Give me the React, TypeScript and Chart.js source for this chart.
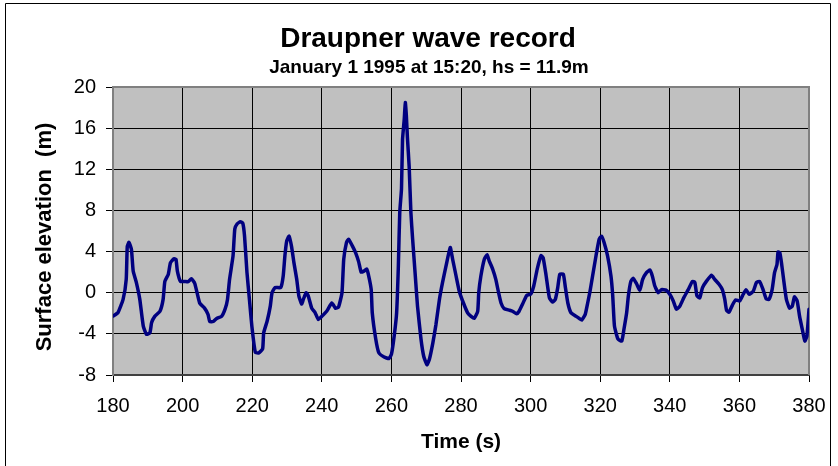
import React, { useEffect, useRef } from "react";
import { Chart, registerables } from "chart.js";

Chart.register(...registerables);

const chartTitle = "Draupner wave record";
const chartSubtitle = "January 1 1995 at 15:20, hs = 11.9m";
const xAxisTitle = "Time (s)";
const yAxisTitle = "Surface elevation  (m)";

const xMin = 180;
const xMax = 380;
const xStep = 20;
const yMin = -8;
const yMax = 20;
const yStep = 4;

const times: number[] = [
  180.0, 181.4, 182.9, 183.8, 184.1, 184.6, 185.3, 185.8, 186.7, 187.7,
  188.7, 189.6, 190.6, 191.1, 192.0, 193.5, 194.4, 194.9, 195.9, 196.5,
  197.5, 198.1, 198.5, 199.4, 200.6, 201.6, 202.5, 203.5, 204.9, 206.3,
  207.3, 207.8, 208.8, 209.8, 211.2, 212.2, 212.9, 213.5, 214.5, 215.0,
  215.7, 216.6, 217.3, 217.8, 218.5, 219.2, 219.9, 220.9, 221.9, 223.0,
  223.3, 224.3, 225.2, 225.7, 226.6, 228.2, 228.9, 229.4, 229.9, 230.6,
  231.3, 232.0, 232.8, 233.4, 234.2, 234.7, 235.5, 236.1, 237.1, 238.1,
  239.0, 240.0, 241.4, 242.9, 243.9, 244.8, 245.8, 246.3, 247.1, 247.7,
  248.7, 249.7, 250.6, 251.3, 252.1, 252.9, 253.5, 254.2, 254.5, 255.5,
  256.4, 257.9, 259.3, 260.0, 260.8, 261.5, 262.0, 262.4, 262.9, 263.2,
  263.7, 264.0, 264.3, 264.6, 265.1, 265.6, 266.1, 266.8, 267.5, 268.5,
  269.3, 270.2, 270.9, 271.9, 272.8, 273.8, 274.7, 275.7, 276.9, 277.6,
  278.6, 279.5, 280.7, 281.9, 282.9, 283.8, 284.8, 285.1, 285.7, 286.7,
  287.5, 288.1, 289.1, 290.0, 290.8, 291.5, 292.4, 293.9, 294.8, 296.0,
  296.7, 297.7, 298.9, 300.0, 300.9, 301.9, 303.0, 303.6, 304.4, 305.4,
  306.3, 307.1, 307.8, 308.4, 309.4, 310.0, 310.7, 311.6, 313.1, 314.0,
  314.7, 315.7, 316.4, 317.0, 317.8, 318.8, 319.7, 320.4, 321.1, 322.1,
  323.1, 323.6, 324.1, 325.1, 326.2, 326.8, 327.6, 328.1, 328.8, 329.5,
  330.4, 331.4, 332.2, 333.3, 334.3, 335.0, 335.7, 336.7, 337.6, 338.9,
  340.0, 341.0, 341.9, 342.9, 344.0, 345.3, 346.5, 347.2, 347.8, 348.6,
  349.4, 350.5, 352.0, 352.9, 354.2, 355.1, 355.8, 356.3, 357.0, 358.0,
  358.9, 360.1, 361.1, 361.9, 362.8, 364.0, 364.9, 365.8, 366.8, 367.7,
  368.5, 369.4, 370.1, 370.8, 371.1, 371.6, 372.1, 372.7, 373.5, 374.4,
  375.2, 375.8, 376.6, 377.3, 378.1, 378.8, 379.4, 380.0,
];

const elevations: number[] = [
  -2.27, -1.95, -0.65, 1.3, 4.5, 4.9, 4.2, 2.1, 1.0, -0.65,
  -3.25, -4.05, -3.9, -2.9, -2.3, -1.8, -0.65, 1.1, 1.8, 2.9,
  3.3, 3.25, 2.1, 1.1, 1.1, 1.07, 1.36, 0.9, -1.0, -1.5,
  -2.1, -2.8, -2.8, -2.5, -2.3, -1.6, -0.65, 1.3, 3.6, 6.2,
  6.7, 6.9, 6.75, 5.5, 1.95, -0.65, -3.25, -5.8, -5.85, -5.45,
  -3.9, -2.75, -1.3, 0.0, 0.5, 0.5, 1.6, 3.6, 5.0, 5.5,
  4.5, 2.9, 1.3, -0.3, -1.1, -0.65, 0.0, -0.3, -1.5, -1.95,
  -2.6, -2.3, -1.8, -1.0, -1.5, -1.4, 0.0, 3.25, 4.9, 5.2,
  4.6, 3.9, 3.0, 2.0, 2.1, 2.3, 1.6, 0.3, -1.95, -4.5,
  -5.85, -6.25, -6.4, -6.0, -4.2, -1.95, 2.6, 7.8, 10.1, 14.9,
  16.9, 18.5, 17.2, 15.1, 12.3, 7.8, 5.2, 1.95, -1.3, -4.5,
  -6.2, -7.0, -6.5, -4.9, -3.1, -0.65, 1.0, 2.6, 4.4, 3.25,
  1.6, 0.15, -1.0, -1.95, -2.3, -2.5, -1.8, 0.0, 1.6, 3.25,
  3.7, 3.1, 2.3, 1.3, 0.0, -1.0, -1.55, -1.7, -1.8, -2.05,
  -1.8, -1.1, -0.25, -0.15, 0.65, 2.3, 3.6, 3.4, 1.8, -0.5,
  -0.9, -0.65, 0.5, 1.8, 1.8, 0.5, -1.0, -1.95, -2.3, -2.5,
  -2.65, -2.1, -1.0, 0.0, 1.6, 3.6, 5.2, 5.5, 4.9, 3.6,
  1.6, -0.3, -3.25, -4.5, -4.7, -3.6, -1.95, -0.3, 1.1, 1.4,
  0.9, 0.25, 1.3, 1.95, 2.2, 1.6, 0.65, 0.0, 0.3, 0.25,
  -0.15, -0.8, -1.6, -1.3, -0.5, 0.3, 1.1, 1.0, -0.3, -0.5,
  0.5, 1.1, 1.7, 1.3, 0.8, 0.3, -0.65, -1.7, -1.9, -1.2,
  -0.7, -0.8, -0.15, 0.3, -0.15, 0.15, 1.0, 1.1, 0.3, -0.6,
  -0.65, 0.3, 1.95, 2.75, 3.95, 3.9, 2.9, 1.3, -0.65, -1.5,
  -1.3, -0.4, -0.8, -2.3, -3.6, -4.7, -4.2, -1.6,
];

const FONT = "'Liberation Sans', Arial, sans-serif";

const decorPlugin = {
  id: "decor",
  beforeDraw(chart: any) {
    const { ctx, chartArea } = chart;
    ctx.save();
    ctx.fillStyle = "#ffffff";
    ctx.fillRect(0, 0, chart.width, chart.height);
    ctx.fillStyle = "#c0c0c0";
    ctx.fillRect(
      chartArea.left,
      chartArea.top,
      chartArea.right - chartArea.left,
      chartArea.bottom - chartArea.top
    );
    ctx.restore();
  },
  beforeDatasetsDraw(chart: any) {
    const { ctx, chartArea } = chart;
    ctx.save();
    ctx.strokeStyle = "#808080";
    ctx.lineWidth = 2;
    ctx.beginPath();
    ctx.moveTo(chartArea.left, chartArea.top);
    ctx.lineTo(chartArea.right, chartArea.top);
    ctx.lineTo(chartArea.right, chartArea.bottom);
    ctx.stroke();
    ctx.restore();
  },
  afterDraw(chart: any) {
    const { ctx } = chart;
    ctx.save();
    // outer frame
    ctx.strokeStyle = "#000000";
    ctx.lineWidth = 1;
    ctx.beginPath();
    ctx.moveTo(5.5, chart.height + 2);
    ctx.lineTo(5.5, 3.5);
    ctx.lineTo(830.5, 3.5);
    ctx.lineTo(830.5, chart.height + 2);
    ctx.stroke();
    // titles
    ctx.fillStyle = "#000000";
    ctx.textAlign = "center";
    ctx.textBaseline = "alphabetic";
    ctx.font = `bold 28px ${FONT}`;
    ctx.fillText(chartTitle, 428, 47);
    ctx.font = `bold 19px ${FONT}`;
    ctx.fillText(chartSubtitle, 429, 73);
    // y axis title
    ctx.translate(45, 237);
    ctx.rotate(-Math.PI / 2);
    ctx.textBaseline = "middle";
    ctx.font = `bold 22px ${FONT}`;
    ctx.fillText(yAxisTitle, 0, 0);
    ctx.restore();
  },
};

export default function App() {
  const canvasRef = useRef<HTMLCanvasElement | null>(null);

  useEffect(() => {
    document.body.style.margin = "0";
    const canvas = canvasRef.current;
    if (!canvas) return;
    const points = times.map((t, i) => ({ x: t, y: elevations[i] }));
    const chart = new Chart(canvas, {
      type: "line",
      data: {
        datasets: [
          {
            data: points,
            borderColor: "#000080",
            borderWidth: 3.5,
            pointRadius: 0,
            tension: 0.15,
            fill: false,
            borderJoinStyle: "round",
            borderCapStyle: "round",
          },
        ],
      },
      options: {
        responsive: false,
        animation: false,
        events: [],
        layout: { padding: { top: 87, right: 29, left: 0, bottom: 0 } },
        plugins: {
          legend: { display: false },
          tooltip: { enabled: false },
          title: { display: false },
        },
        scales: {
          x: {
            type: "linear",
            min: xMin,
            max: xMax,
            afterFit: (scale: any) => {
              scale.height = 91;
            },
            ticks: {
              stepSize: xStep,
              color: "#000000",
              font: { family: FONT, size: 20 },
              padding: 12,
              maxRotation: 0,
              autoSkip: false,
            },
            grid: {
              color: "#000000",
              lineWidth: 1,
              tickLength: 7,
              tickColor: "#000000",
            },
            border: { display: true, color: "#404040", width: 2 },
            title: {
              display: true,
              text: xAxisTitle,
              color: "#000000",
              font: { family: FONT, size: 21, weight: "bold" },
              padding: { top: 0, bottom: 11 },
            },
          },
          y: {
            min: yMin,
            max: yMax,
            afterFit: (scale: any) => {
              scale.width = 113;
            },
            ticks: {
              stepSize: yStep,
              color: "#000000",
              font: { family: FONT, size: 20 },
              padding: 10,
              autoSkip: false,
            },
            grid: {
              color: "#000000",
              lineWidth: 1,
              tickLength: 7,
              tickColor: "#000000",
            },
            border: { display: true, color: "#808080", width: 2 },
            title: { display: false },
          },
        },
      },
      plugins: [decorPlugin],
    });
    return () => chart.destroy();
  }, []);

  return (
    <div style={{ position: "fixed", left: 0, top: 0, width: 838, height: 466 }}>
      <canvas ref={canvasRef} width={838} height={466} />
    </div>
  );
}
